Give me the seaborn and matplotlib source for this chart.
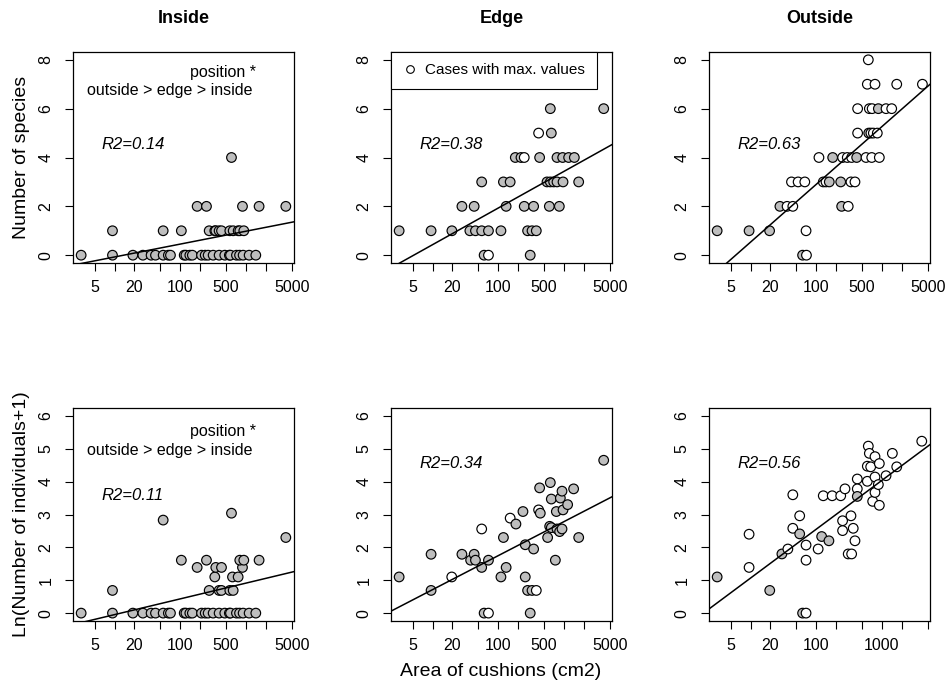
import numpy as np
import pandas as pd
import seaborn as sns
import matplotlib.pyplot as plt
from matplotlib.lines import Line2D
from matplotlib.ticker import NullLocator

sns.set_style("ticks")
plt.rcParams['font.family'] = ['Liberation Sans', 'DejaVu Sans']
plt.rcParams.update({"text.color": "black", "axes.labelcolor": "black",
                     "xtick.color": "black", "ytick.color": "black"})

# cushion areas (cm2) where nothing was found inside the cushion (0 species, ln(0+1)=0)
inside_empty = [3.1, 9.3, 19, 27, 36, 42, 55, 66, 71, 115, 122, 140, 153, 211, 240,
                266, 317, 391, 477, 560, 582, 718, 800, 907, 1120, 1415]

# (area cm2, value, 1 = case with max. value -> open circle)
inside_species = [
    (9.3, 1, 0), (55, 1, 0), (104, 1, 0), (276, 1, 0), (336, 1, 0), (348, 1, 0), (391, 1, 0),
    (425, 1, 0), (569, 1, 0), (640, 1, 0), (762, 1, 0), (807, 1, 0), (929, 1, 0),
    (181, 2, 0), (251, 2, 0), (887, 2, 0), (1588, 2, 0), (4054, 2, 0),
    (603, 4, 0),
]
inside_indiv = [
    (9.3, 0.69, 0), (276, 0.69, 0), (391, 0.69, 0), (425, 0.69, 0), (569, 0.69, 0), (640, 0.69, 0),
    (336, 1.10, 0), (625, 1.10, 0), (762, 1.10, 0),
    (181, 1.39, 0), (348, 1.39, 0), (425, 1.39, 0), (887, 1.39, 0),
    (104, 1.61, 0), (251, 1.61, 0), (807, 1.61, 0), (929, 1.61, 0), (1588, 1.61, 0),
    (4054, 2.30, 0), (55, 2.83, 0), (603, 3.04, 0),
]
edge_species = [
    (61, 0, 0), (71, 0, 1), (307, 0, 0),
    (3.1, 1, 0), (9.5, 1, 0), (19.7, 1, 0), (37, 1, 0), (45, 1, 0), (56, 1, 0), (71, 1, 0),
    (110, 1, 0), (280, 1, 0), (327, 1, 0), (380, 1, 0),
    (28, 2, 0), (43, 2, 0), (132, 2, 0), (249, 2, 0), (346, 2, 0), (600, 2, 0), (852, 2, 0),
    (56, 3, 0), (120, 3, 0), (152, 3, 0), (553, 3, 0), (621, 3, 0), (698, 3, 0), (785, 3, 0),
    (970, 3, 0), (1679, 3, 0),
    (182, 4, 0), (222, 4, 0), (249, 4, 1), (427, 4, 0), (785, 4, 0), (957, 4, 0), (1180, 4, 0),
    (1442, 4, 0),
    (412, 5, 1), (643, 5, 0),
    (621, 6, 0), (4036, 6, 0),
]
edge_indiv = [
    (3.1, 1.10, 0), (9.5, 1.79, 0), (9.5, 0.69, 0), (19.6, 1.10, 1), (28, 1.79, 0), (38, 1.61, 0),
    (43, 1.79, 0), (45, 1.61, 0), (56, 2.56, 1), (56, 1.39, 0), (61, 0, 0), (71, 0, 1),
    (71, 1.61, 0), (110, 1.10, 0), (120, 2.30, 0), (132, 1.39, 0), (152, 2.89, 1), (186, 2.71, 0),
    (238, 3.09, 0), (258, 2.08, 0), (258, 1.10, 0), (280, 0.69, 0), (307, 0, 0), (327, 0.69, 0),
    (346, 1.95, 0), (380, 0.69, 1), (412, 3.14, 1), (437, 3.04, 0), (427, 3.81, 0), (565, 2.30, 0),
    (607, 2.64, 0), (621, 3.97, 0), (643, 3.47, 0), (643, 2.60, 0), (741, 1.61, 0), (767, 3.09, 0),
    (785, 2.56, 0), (860, 2.48, 0), (883, 3.50, 0), (936, 3.71, 0), (936, 2.56, 0), (970, 3.14, 0),
    (1140, 3.30, 0), (1406, 3.78, 0), (1680, 2.30, 0), (4036, 4.65, 0),
]
outside_species = [
    (62, 0, 0), (71, 0, 1),
    (3.1, 1, 0), (9.5, 1, 0), (19.5, 1, 0), (70, 1, 1),
    (28, 2, 0), (36, 2, 1), (44, 2, 1), (244, 2, 0), (307, 2, 1),
    (42, 3, 1), (53, 3, 1), (67, 3, 1), (128, 3, 1), (141, 3, 1), (158, 3, 0), (236, 3, 0),
    (338, 3, 1), (389, 3, 1),
    (110, 4, 1), (178, 4, 0), (252, 4, 1), (297, 4, 1), (346, 4, 1), (413, 4, 0), (573, 4, 1),
    (700, 4, 1), (914, 4, 1),
    (427, 5, 1), (630, 5, 0), (680, 5, 1), (740, 5, 1), (851, 5, 1),
    (427, 6, 1), (644, 6, 1), (710, 6, 1), (883, 6, 0), (1156, 6, 1), (1410, 6, 1),
    (600, 7, 1), (785, 7, 1), (1682, 7, 1), (4140, 7, 1),
    (621, 8, 1),
]
outside_indiv = [
    (3.1, 1.10, 0), (9.5, 2.40, 1), (9.5, 1.39, 1), (19.6, 0.69, 0), (30, 1.80, 0), (37, 1.95, 1),
    (44, 3.60, 1), (44, 2.58, 1), (56, 2.96, 1), (56, 2.41, 0), (62, 0, 0), (70, 0, 1),
    (70, 2.07, 1), (70, 1.61, 1), (107, 1.95, 1), (121, 2.33, 0), (128, 3.57, 1), (156, 2.20, 0),
    (175, 3.57, 1), (236, 3.57, 1), (252, 2.81, 1), (252, 2.51, 1), (274, 3.78, 1), (307, 1.80, 1),
    (338, 2.96, 1), (346, 1.80, 1), (366, 2.58, 1), (389, 2.20, 1), (422, 4.08, 1), (422, 3.78, 1),
    (422, 3.55, 0), (600, 4.47, 1), (600, 4.01, 1), (621, 5.08, 1), (644, 4.86, 1), (675, 4.45, 1),
    (723, 3.40, 1), (785, 4.76, 1), (785, 4.14, 1), (785, 3.67, 1), (883, 3.91, 1), (914, 4.55, 1),
    (914, 3.28, 1), (1156, 4.18, 1), (1443, 4.86, 1), (1682, 4.45, 1), (4046, 5.23, 1),
]

# fitted lines: value = intercept + slope * log10(area)
line_intercept = [-0.60, -1.07, -1.83, -0.525, -0.32, -0.42]
line_slope = [0.527, 1.50, 2.365, 0.479, 1.034, 1.486]
r2_labels = ["R2=0.14", "R2=0.38", "R2=0.63", "R2=0.11", "R2=0.34", "R2=0.56"]
titles = ["Inside", "Edge", "Outside"]

xticks_all = [5, 10, 20, 50, 100, 200, 500, 1000, 2000, 5000]
xtick_shown = [5, 20, 100, 500, 5000]
xtick_shown_last = [5, 20, 100, 1000]

panel_data = [
    [(a, 0, 0) for a in inside_empty] + inside_species, edge_species, outside_species,
    [(a, 0, 0) for a in inside_empty] + inside_indiv, edge_indiv, outside_indiv,
]

W, H = 949, 687
fig = plt.figure(figsize=(W / 100, H / 100), dpi=100)
col_left = [73, 391, 709]
row_top = [52, 408]
row_bottom = [263, 621]
ax_w = 221

for i, rows in enumerate(panel_data):
    r, c = divmod(i, 3)
    ax = fig.add_axes([col_left[c] / W, 1 - row_bottom[r] / H, ax_w / W,
                       (row_bottom[r] - row_top[r]) / H])
    df = pd.DataFrame(rows, columns=["area", "value", "maxcase"])
    df["kind"] = np.where(df["maxcase"] == 1, "max", "other")
    ax.set_xscale("log")
    sns.scatterplot(data=df, x="area", y="value", hue="kind",
                    palette={"other": "#BEBEBE", "max": "white"},
                    edgecolor="black", linewidth=0.85, s=48, legend=False, ax=ax, zorder=3)

    xs = np.geomspace(2, 6000, 200)
    ax.plot(xs, line_intercept[i] + line_slope[i] * np.log10(xs), color="black", lw=1.1, zorder=4)

    ax.set_xlim(2.33, 5400)
    if r == 0:
        ax.set_ylim(-0.32, 8.32)
        ax.set_yticks([0, 2, 4, 6, 8])
        ax.set_title(titles[c], fontweight="bold", fontsize=13, pad=21)
    else:
        ax.set_ylim(-0.24, 6.24)
        ax.set_yticks([0, 1, 2, 3, 4, 5, 6])
    shown = xtick_shown_last if i == 5 else xtick_shown
    ax.set_xticks(xticks_all)
    ax.set_xticklabels([str(t) if t in shown else "" for t in xticks_all])
    ax.xaxis.set_minor_locator(NullLocator())
    ax.set_xlabel("")
    ax.set_ylabel("")
    ax.tick_params(axis="both", direction="out", length=6, width=0.8, color="black",
                   labelsize=11.5, pad=6)
    ax.tick_params(axis="y", labelrotation=90, pad=8)
    for lab in ax.get_yticklabels():
        lab.set_va("center")
    for sp in ax.spines.values():
        sp.set_visible(True)
        sp.set_linewidth(0.9)
        sp.set_color("black")

    r2_y = 3.57 if i == 3 else 4.55
    ax.text(6.4, r2_y, r2_labels[i], style="italic", fontsize=12, ha="left", va="center")

    if c == 0:
        y1, y2 = (7.5, 6.73) if r == 0 else (5.54, 4.96)
        ax.text(1450, y1, "position *", fontsize=11.5, ha="right", va="center")
        ax.text(3.8, y2, "outside > edge > inside", fontsize=11.5, ha="left", va="center")

    if i == 1:
        handle = Line2D([], [], marker="o", ls="", mfc="white", mec="black", ms=5.5, mew=0.8)
        leg = ax.legend([handle], ["Cases with max. values"], loc="upper left",
                        bbox_to_anchor=(0, 1), borderaxespad=0, fancybox=False,
                        edgecolor="black", framealpha=1, fontsize=11, handlelength=1.0,
                        handletextpad=0.5, borderpad=0.75)
        leg.get_frame().set_linewidth(0.8)

fig.text(22 / W, 1 - 157.5 / H, "Number of species", rotation=90, fontsize=14,
         ha="center", va="center")
fig.text(22 / W, 1 - 514 / H, "Ln(Number of individuals+1)", rotation=90, fontsize=14,
         ha="center", va="center")
fig.text(501 / W, 1 - 672 / H, "Area of cushions (cm2)", fontsize=14, ha="center", va="center")

fig.savefig("out.png", dpi=100, facecolor="white")
